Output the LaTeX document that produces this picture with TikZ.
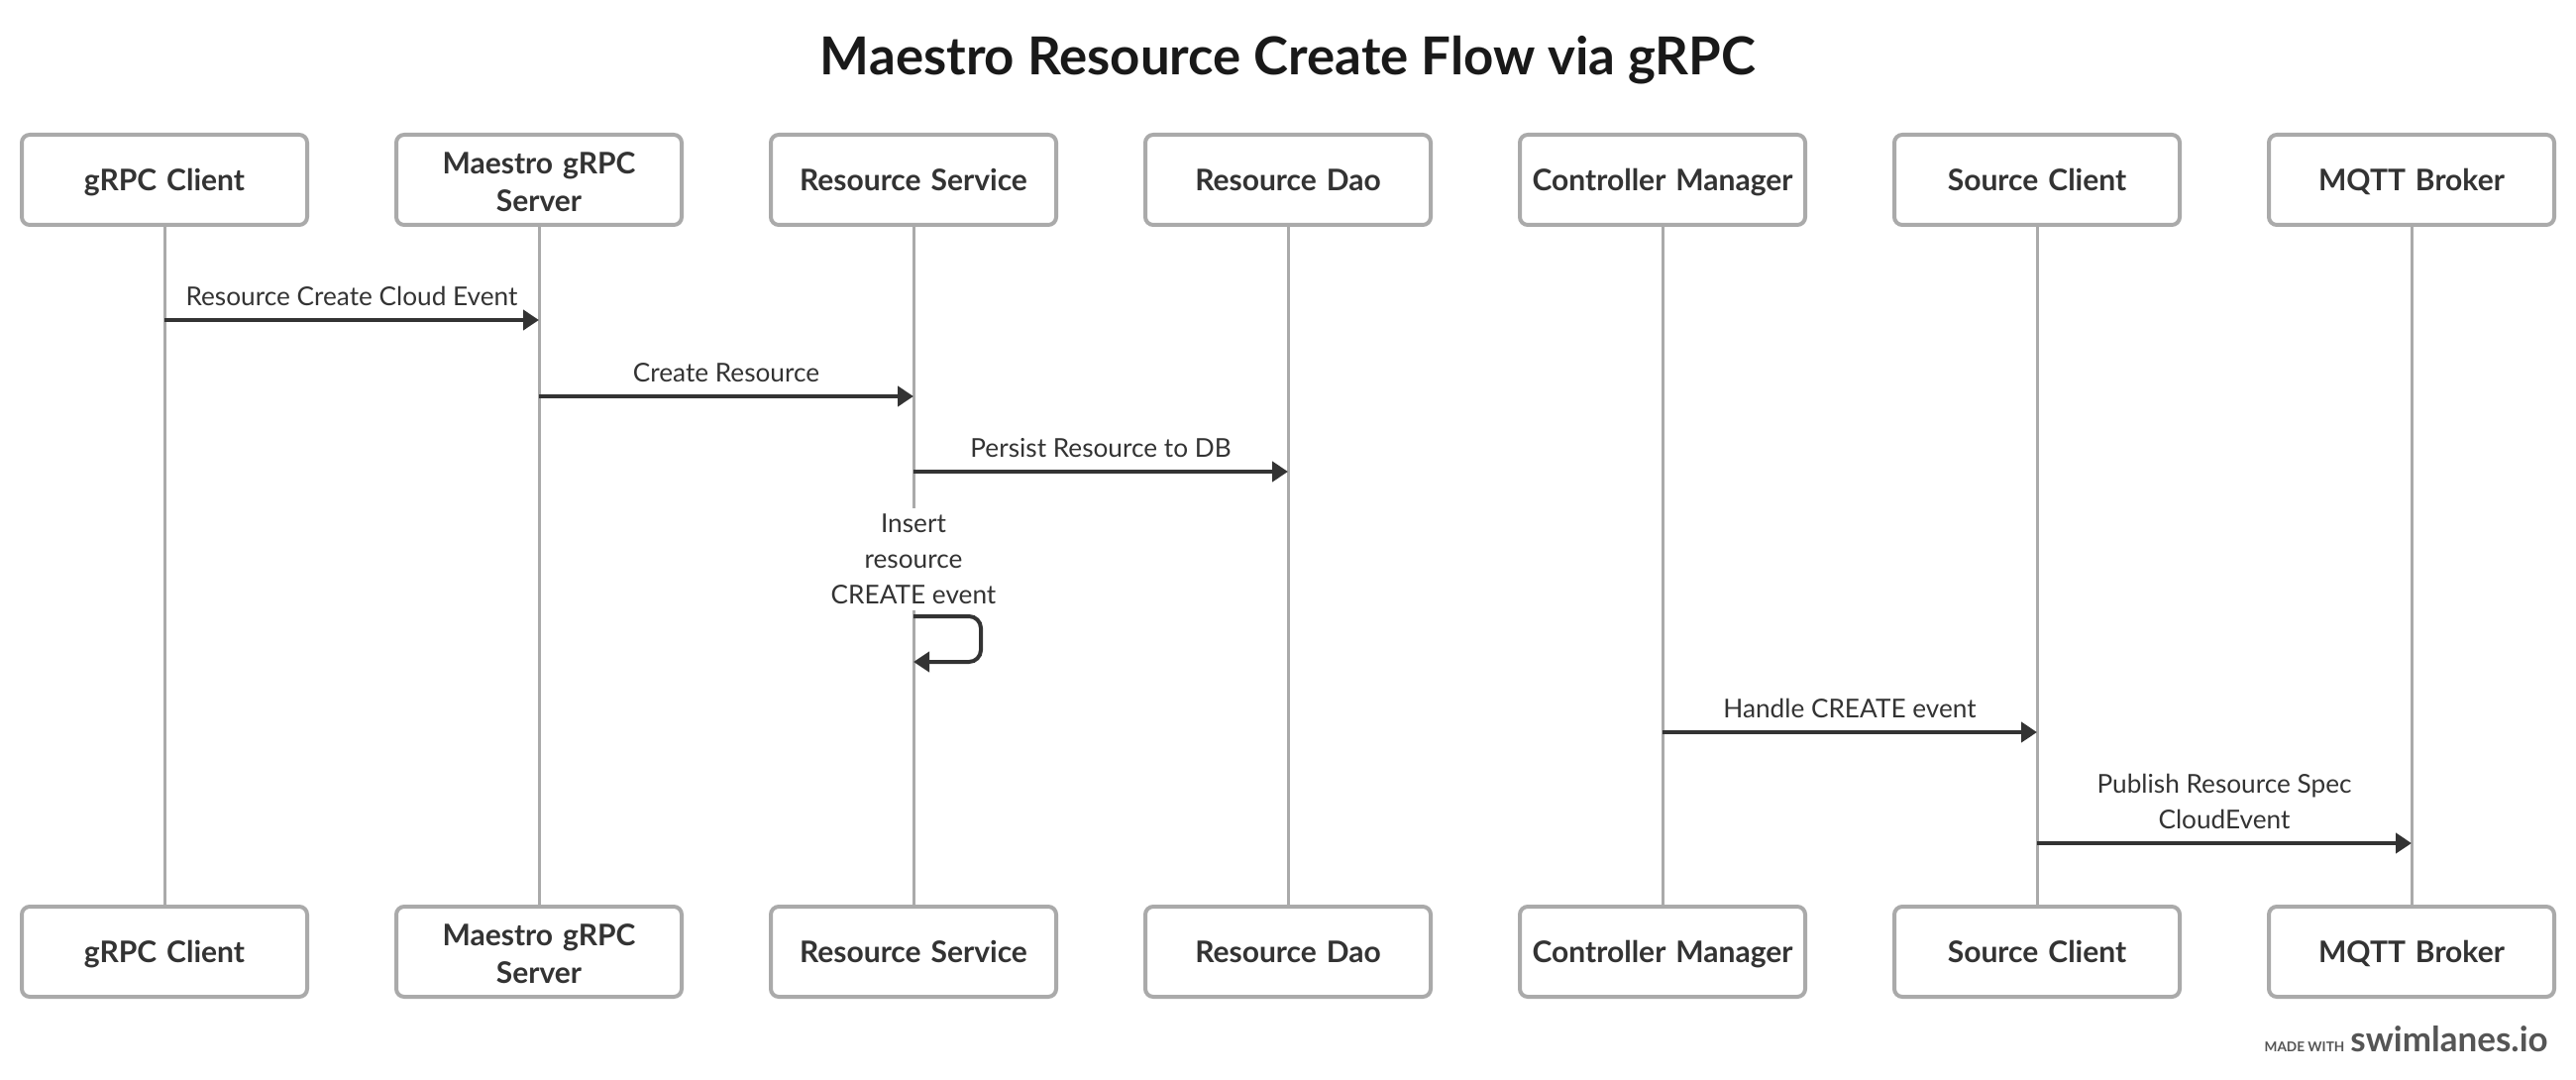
\documentclass[tikz,border=0pt]{standalone}
\usepackage{fontspec}
\setmainfont{Lato}
\usetikzlibrary{arrows.meta}
\definecolor{ink}{HTML}{333333}
\definecolor{frame}{HTML}{AAAAAA}
\definecolor{brandgray}{HTML}{555555}
\begin{document}
\begin{tikzpicture}[x=0.5pt,y=-0.5pt,
  actor/.style={draw=frame, line width=2pt, rounded corners=4pt, minimum width=144pt, minimum height=45.5pt, text width=136pt, align=center, font=\fontsize{15}{19}\selectfont\bfseries, text=ink, fill=white, inner sep=0pt, execute at begin node={\vphantom{Ag}\rule{0pt}{13.6pt}}},
  life/.style={draw=frame, line width=1.5pt},
  msg/.style={draw=ink, line width=2pt, -{Triangle[length=8pt,width=10pt]}},
  lbl/.style={font=\fontsize{13.1}{18}\selectfont, text=ink, align=center},
]
\useasboundingbox (0,0) rectangle (2600,1090);

\node[font=\fontsize{26.4}{30}\selectfont\bfseries, text=black!90] (title) at (1300,61) {Maestro Resource Create Flow via gRPC};

% top actors
\node[actor] (t1) at (166,181.5) {gRPC Client};
\node[actor] (t2) at (544,181.5) {Maestro gRPC\\Server};
\node[actor] (t3) at (922,181.5) {Resource Service};
\node[actor] (t4) at (1300,181.5) {Resource Dao};
\node[actor] (t5) at (1678,181.5) {Controller Manager};
\node[actor] (t6) at (2056,181.5) {Source Client};
\node[actor] (t7) at (2434,181.5) {MQTT Broker};
% bottom actors
\node[actor] (b1) at (166,960.5) {gRPC Client};
\node[actor] (b2) at (544,960.5) {Maestro gRPC\\Server};
\node[actor] (b3) at (922,960.5) {Resource Service};
\node[actor] (b4) at (1300,960.5) {Resource Dao};
\node[actor] (b5) at (1678,960.5) {Controller Manager};
\node[actor] (b6) at (2056,960.5) {Source Client};
\node[actor] (b7) at (2434,960.5) {MQTT Broker};

% lifelines
\foreach \i in {1,...,7} {\draw[life] (t\i.south) -- (b\i.north);}

% messages
\draw[msg] (t1.south |- 0,323) -- (t2.south |- 0,323)
  node[lbl, midway, above, inner sep=6pt] (l1) {Resource Create Cloud Event};
\draw[msg] (t2.south |- 0,400) -- (t3.south |- 0,400)
  node[lbl, midway, above, inner sep=6pt] (l2) {Create Resource};
\draw[msg] (t3.south |- 0,476) -- (t4.south |- 0,476)
  node[lbl, midway, above, inner sep=6pt] (l3) {Persist Resource to DB};

\node[lbl, fill=white, anchor=south, inner sep=3pt] (l4) at (922,616) {Insert\\resource\\CREATE event};
\draw[msg, rounded corners=6pt] (t3.south |- 0,622) -- (990,622) -- (990,668) -- (t3.south |- 0,668);

\draw[msg] (t5.south |- 0,739) -- (t6.south |- 0,739)
  node[lbl, midway, above, inner sep=6pt] (l5) {Handle CREATE event};
\draw[msg] (t6.south |- 0,851) -- (t7.south |- 0,851)
  node[lbl, midway, above, inner sep=6pt] (l6) {Publish Resource Spec\\CloudEvent};

% footer
\node[anchor=base east, text=brandgray, inner sep=0pt] (brand) at (2572,1061)
  {{\fontsize{6.8}{8}\selectfont\bfseries MADE WITH}\hspace{3pt}{\fontsize{17.5}{20}\selectfont\bfseries swimlanes.io}};
\end{tikzpicture}
\end{document}
